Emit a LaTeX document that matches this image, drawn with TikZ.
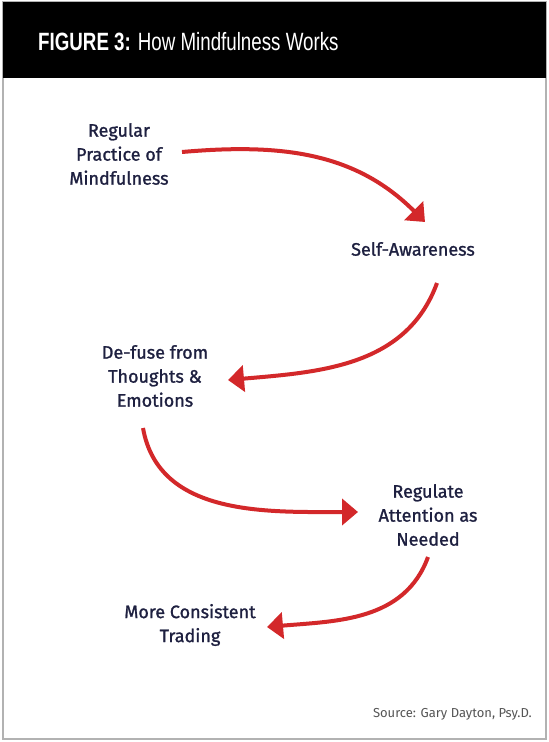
\documentclass[tikz,border=0pt]{standalone}
\usepackage{fontspec}
\setmainfont{Fira Sans}
\newfontfamily\bodyfont[FakeBold=1.2]{Fira Sans}
\newfontfamily\titlefont[FakeStretch=0.75]{Liberation Sans}
\usetikzlibrary{arrows.meta,calc}
\definecolor{navy}{HTML}{1E2040}
\definecolor{arrred}{HTML}{D3282A}
\definecolor{srcgray}{HTML}{555555}
\begin{document}
\begin{tikzpicture}[x=1pt,y=1pt,
  lbl/.style={align=center, text=navy, font=\bodyfont\fontsize{18}{24}\selectfont, inner sep=0pt},
  arr/.style={draw=arrred, line width=4pt, -{Triangle[length=16pt,width=26pt]}}]
\useasboundingbox (0,0) rectangle (549,-742);
\fill[white] (0,0) rectangle (549,-742);
\draw[gray!60, line width=1.2pt] (3,-2) rectangle (546,-739);
\fill[black] (3,-2) rectangle (546,-78);
\node[anchor=base west, text=white, inner sep=0pt, font=\titlefont\fontsize{25}{30}\selectfont] (title) at (38,-50) {\textbf{FIGURE 3:} How Mindfulness Works};
\node[lbl] (reg) at (119,-154) {Regular\\Practice of\\Mindfulness};
\node[lbl] (self) at (413,-249) {Self-Awareness};
\node[lbl] (defuse) at (155,-376) {De-fuse from\\Thoughts \&\\Emotions};
\node[lbl] (regulate) at (428,-515) {Regulate\\Attention as\\Needed};
\node[lbl] (trading) at (190,-625) {More Consistent\\Trading};
\node[anchor=base east, text=srcgray, inner sep=0pt, font=\fontsize{13}{15}\selectfont] (source) at (532,-717) {Source: Gary Dayton, Psy.D.};
\draw[arr] ([shift={(63,2)}]reg.center) to[out=5,in=135] ([shift={(12,27)}]self.center);
\draw[arr] ([shift={(24,-34)}]self.center) to[out=-110,in=5] ([shift={(73,-4)}]defuse.center);
\draw[arr] ([shift={(-12,-52)}]defuse.center) to[out=-80,in=180] ([shift={(-70,3)}]regulate.center);
\draw[arr] ([shift={(0,-42)}]regulate.center) to[out=-110,in=5] ([shift={(77,-2)}]trading.center);
\end{tikzpicture}
\end{document}
